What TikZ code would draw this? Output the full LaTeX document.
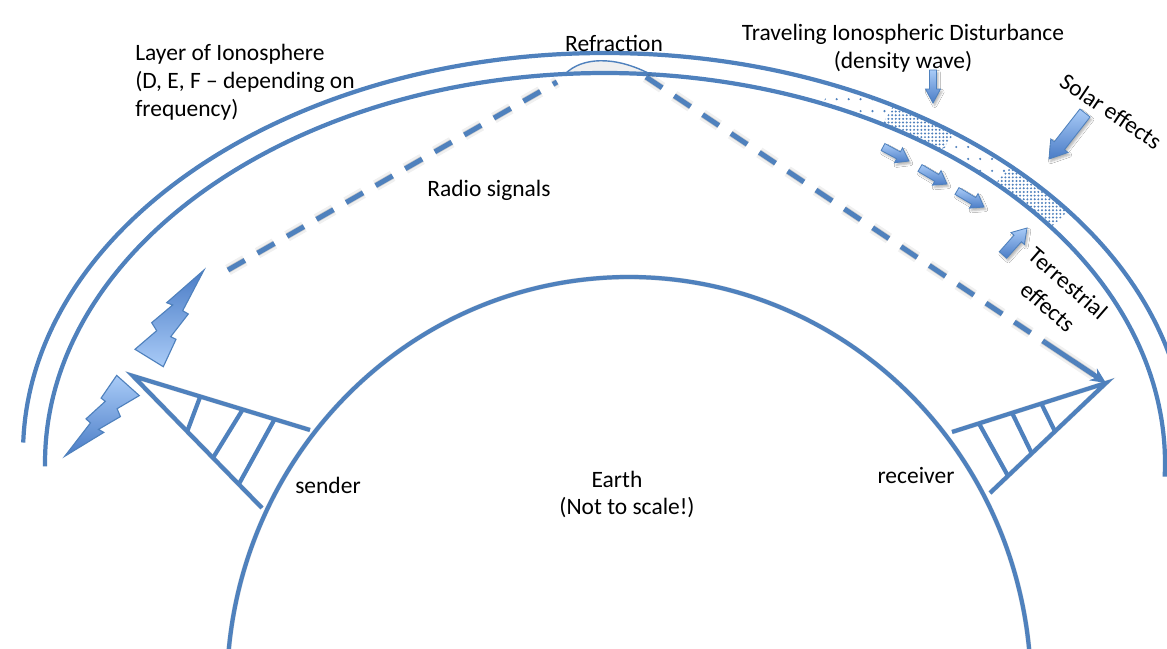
\documentclass[tikz,border=0pt]{standalone}
\usepackage{fontspec}
\setmainfont{Carlito}
\usetikzlibrary{calc,arrows.meta,patterns.meta,shadows.blur}

\definecolor{ionoblue}{HTML}{4F81BD}
\definecolor{lightfill}{HTML}{A9CBF7}
\definecolor{darkfill}{HTML}{4A7CC6}

\tikzset{
  mainline/.style={draw=ionoblue, line width=3pt},
  sigline/.style={draw=ionoblue, line width=3.5pt, dash pattern=on 13.8pt off 10.4pt},
  sigshadowwide/.style={draw=black, line width=8pt, opacity=0.06, dash pattern=on 13.8pt off 10.4pt, shift={(2,5)}},
  sigshadow/.style={draw=black, line width=4.5pt, opacity=0.14, dash pattern=on 13.8pt off 10.4pt, shift={(2,4)}},
  softshadow/.style={draw=black, line width=3.5pt, opacity=0.10, shift={(1.5,3)}},
  txt/.style={font=\fontsize{16.7}{20}\selectfont, inner sep=0pt, text=black},
  arrowbody/.style={draw=ionoblue, line width=0.6pt, top color=lightfill, bottom color=darkfill,
    blur shadow={shadow xshift=1.2pt, shadow yshift=-1.8pt, shadow opacity=30, shadow blur radius=1.5pt}},
  bolt/.style={draw=ionoblue, line width=0.8pt, line join=miter},
  densedots/.style={pattern={Dots[distance=2.6pt, radius=0.78pt]}, pattern color=ionoblue},
  sparsedots/.style={pattern={Dots[distance=8.5pt, radius=0.85pt]}, pattern color=ionoblue},
}

% block arrow: [options]{tail}{tip}{shaft half width}{head half width}{head length}
\newcommand\blockarrow[6][]{%
  \coordinate (ba-h) at ($(#3)!#6!(#2)$);
  \path[arrowbody,#1] ($(#2)!#4!90:(#3)$) -- ($(ba-h)!#4!90:(#3)$) -- ($(ba-h)!#5!90:(#3)$)
    -- (#3) -- ($(ba-h)!#5!-90:(#3)$) -- ($(ba-h)!#4!-90:(#3)$) -- ($(#2)!#4!-90:(#3)$) -- cycle;
}

% one piece of the disturbance band between the two ionosphere arcs
\newcommand\bandpiece[3]{%
  \path[#3] ($(ionoOut)+(#1:582 and 400)$) arc[start angle=#1, end angle=#2, x radius=582, y radius=400]
    -- ($(ionoIn)+(#2:560 and 390)$) arc[start angle=#2, end angle=#1, x radius=560, y radius=390] -- cycle;
}

\begin{document}
\begin{tikzpicture}[x=0.025cm, y=-0.025cm]
\useasboundingbox (0,0) rectangle (1167,649);
\fill[white] (0,0) rectangle (1167,649);
\clip (0,0) rectangle (1167,649);

% ellipse centres
\coordinate (ionoOut) at (605,453);
\coordinate (ionoIn) at (605,463);
\coordinate (earthC) at (629,689);

% travelling disturbance: alternating density in the layer
\bandpiece{292.9}{299.7}{fill=white, sparsedots}
\bandpiece{299.7}{306.9}{densedots}
\bandpiece{306.9}{314.2}{fill=white, sparsedots}
\bandpiece{314.2}{322.8}{densedots}

% ionosphere layer
\draw[mainline] ($(ionoOut)+(181.5:582 and 400)$) arc[start angle=181.5, end angle=360, x radius=582, y radius=400];

% refraction bump
\coordinate (bumpL) at (565,74);
\coordinate (bumpR) at (648,73);
\draw[ionoblue, line width=1pt, fill=gray!12] (bumpL) .. controls (582,57) and (614,56) .. (bumpR);

\draw[mainline] ($(ionoIn)+(179.5:560 and 390)$) arc[start angle=179.5, end angle=362, x radius=560, y radius=390];

% earth
\draw[softshadow] ($(earthC)+(175:402 and 412)$) arc[start angle=175, end angle=365, x radius=402, y radius=412];
\draw[mainline] ($(earthC)+(175:402 and 412)$) arc[start angle=175, end angle=365, x radius=402, y radius=412];

% sender tower
\coordinate (sApex) at (133,376);
\coordinate (sTop) at (310,430);
\coordinate (sBot) at (262,508);
\draw[softshadow] (sTop) -- (sApex) -- (sBot);
\draw[mainline] (sTop) -- (sApex) -- (sBot);
\foreach \a/\b in {0.38/0.42, 0.62/0.62, 0.80/0.82}
  \draw[mainline] ($(sApex)!\a!(sTop)$) -- ($(sApex)!\b!(sBot)$);

% receiver tower
\coordinate (rApex) at (1106,383);
\coordinate (rTop) at (952,432);
\coordinate (rBot) at (990,493);
\draw[softshadow] (rTop) -- (rApex) -- (rBot);
\draw[mainline] (rTop) -- (rApex) -- (rBot);
\foreach \a/\b in {0.42/0.44, 0.61/0.64, 0.825/0.845}
  \draw[mainline] ($(rApex)!\a!(rTop)$) -- ($(rApex)!\b!(rBot)$);

% lightning bolts at the sender
\draw[bolt, top color=darkfill, bottom color=lightfill]
  (204,270) -- (166.7,302.7) -- (172.7,305) -- (151.7,322.7) -- (156.7,330.7) -- (135,349.3)
  -- (163.3,366.7) -- (176,339.3) -- (170.7,336.7) -- (188.3,314) -- (182.7,310.7) -- cycle;
\draw[bolt, top color=lightfill, bottom color=darkfill]
  (64.8,456.2) -- (103.8,432.4) -- (98.5,429.4) -- (120.4,416.6) -- (117.1,408.7) -- (139.3,395.6)
  -- (116.7,375.4) -- (101.1,398.1) -- (105.3,401.3) -- (86,418.9) -- (90.5,422.9) -- cycle;

% radio signal path
\coordinate (sigStart) at (228,270);
\coordinate (refrL) at (557,82);
\coordinate (refrR) at (646,77);
\coordinate (lastDash) at ($(refrR)!0.867!(rApex)$);
\foreach \s in {sigshadowwide, sigshadow} {
  \draw[\s] (sigStart) -- (refrL);
  \draw[\s] (refrR) -- (lastDash);
  \draw[\s, solid] (lastDash) -- ($(lastDash)!0.8!(rApex)$);
}
\draw[sigline] (sigStart) -- (refrL);
\draw[sigline] (refrR) -- (lastDash);
\draw[sigline, solid, -{Stealth[length=11pt, width=10pt]}] (lastDash) -- (rApex);

% block arrows
\blockarrow{933,70}{933,103}{2.5pt}{5.3pt}{9.9pt}
\blockarrow{1085,113}{1049,159}{4.6pt}{7.8pt}{12pt}
\blockarrow{883,147}{909,161}{2.8pt}{6pt}{8.5pt}
\blockarrow{920,168}{947,184}{2.8pt}{6pt}{8.5pt}
\blockarrow{957,191}{984,207}{2.8pt}{6pt}{8.5pt}
\blockarrow{1003,255}{1027,228}{3.5pt}{6.4pt}{10pt}

% labels
\node[txt, align=left, anchor=north west] (layer) at (135,44) {Layer of Ionosphere\\(D, E, F – depending on\\frequency)};
\node[txt] (refr) at (614,43) {Refraction};
\node[txt, align=center] (tid) at (903,48) {Traveling Ionospheric Disturbance\\(density wave)};
\node[txt] (radio) at (489,190) {Radio signals};
\node[txt, rotate=-34] (solar) at (1111,111) {Solar effects};
\node[txt, font=\fontsize{16.7}{22}\selectfont, rotate=-41, align=center] (terr) at (1058,295) {Terrestrial\\effects};
\node[txt] (sender) at (328,485) {sender};
\node[txt] (receiver) at (916,476) {receiver};
\node[txt] (earth) at (617,479) {Earth};
\node[txt] (scale) at (627,508) {(Not to scale!)};
\end{tikzpicture}
\end{document}
